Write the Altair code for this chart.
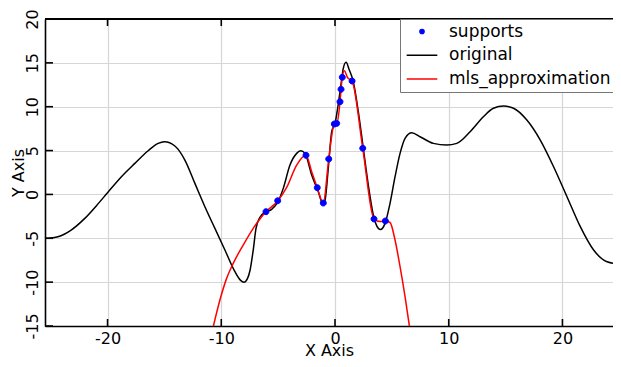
import altair as alt
import pandas as pd

# ---------------- data ----------------
series_names = ["supports", "original", "mls_approximation"]
series_colors = ["#0000ff", "#000000", "#ff0000"]
line_names = ["original", "mls_approximation"]
line_colors = ["#000000", "#ff0000"]

orig_x = [-25.5, -25.0, -24.36, -23.2, -22.0, -20.8, -20.0, -18.78, -17.6, -16.43,
          -15.55, -15.0, -14.08, -13.2, -12.32, -11.44, -10.56, -9.68, -8.8, -8.3,
          -8.0, -7.7, -7.48, -7.19, -6.95, -6.6, -6.1, -5.57, -5.0, -4.55,
          -3.96, -3.37, -3.02, -2.64, -2.05, -1.47, -1.08, -0.9, -0.59, -0.29,
          0.0, 0.44, 0.73, 0.97, 1.26, 1.61, 2.05, 2.49, 2.93, 3.37,
          3.81, 4.0, 4.4, 4.84, 5.28, 5.72, 6.16, 6.75, 7.48, 8.65,
          9.83, 10.71, 11.88, 13.05, 13.93, 14.82, 15.7, 16.87, 18.05, 19.22,
          20.4, 21.57, 22.74, 23.92, 25.09, 25.5]
orig_y = [-5.0, -4.97, -4.82, -4.06, -2.73, -1.02, 0.2, 2.02, 3.54, 4.98,
          5.82, 6.0, 5.52, 3.92, 1.26, -1.4, -3.87, -6.34, -8.81, -9.8,
          -10.0, -9.6, -8.7, -6.34, -3.9, -2.6, -2.0, -1.7, -0.8, 0.69,
          3.35, 4.68, 4.98, 4.68, 2.21, 0.31, -1.02, -0.8, 2.97, 7.15,
          8.1, 11.7, 14.38, 15.06, 14.18, 12.85, 9.43, 5.26, 1.07, -2.35,
          -3.87, -4.0, -3.3, -1.01, 2.02, 4.68, 6.4, 7.04, 6.58, 5.82,
          5.63, 5.82, 7.15, 8.86, 9.82, 10.08, 9.82, 8.48, 6.2, 3.16,
          -0.26, -3.68, -6.34, -7.67, -7.94, -7.95]

mls_x = [-10.71, -10.12, -9.53, -8.95, -8.07, -7.19, -6.45, -6.07, -5.04, -4.25,
         -3.37, -2.55, -2.05, -1.56, -1.03, -0.55, -0.06, 0.15, 0.44, 0.53,
         0.64, 0.82, 1.11, 1.5, 2.44, 3.43, 3.96, 4.43, 4.84, 5.28,
         5.72, 6.16, 6.54]
mls_y = [-15.1, -12.04, -9.57, -7.86, -5.77, -3.87, -2.54, -1.97, -0.75, 0.8,
         3.35, 4.46, 2.59, 0.77, -0.98, 4.04, 8.03, 8.1, 10.57, 11.98,
         13.35, 14.1, 13.3, 12.93, 5.26, -2.8, -3.1, -3.03, -3.2, -5.2,
         -8.24, -11.66, -15.0]

sup_x = [-6.07, -5.04, -2.55, -1.56, -1.03, -0.55, -0.06, 0.15, 0.44, 0.53,
         0.64, 1.5, 2.44, 3.43, 4.43]
sup_y = [-1.97, -0.72, 4.46, 0.77, -0.98, 4.04, 8.03, 8.1, 10.57, 11.98,
         13.35, 12.93, 5.26, -2.8, -3.03]

x_ticks = [-20, -10, 0, 10, 20]
y_ticks = [-15, -10, -5, 0, 5, 10, 15, 20]

# ---------------- tables ----------------
df_orig = pd.DataFrame({"x": orig_x, "y": orig_y, "series": "original"})
df_mls = pd.DataFrame({"x": mls_x, "y": mls_y, "series": "mls_approximation"})
df_sup = pd.DataFrame({"x": sup_x, "y": sup_y, "series": "supports"})
df_xt = pd.DataFrame({"v": x_ticks})
df_yt = pd.DataFrame({"v": y_ticks})

# ---------------- layout / style ----------------
FONT = "DejaVu Sans"
W, H = 568, 307
X_DOMAIN = [-25.5, 24.445]
Y_DOMAIN = [-15, 20]
GRID = "#d6d6d6"

xs = alt.Scale(domain=X_DOMAIN, nice=False, zero=False)
ys = alt.Scale(domain=Y_DOMAIN, nice=False, zero=False)
line_color_scale = alt.Scale(domain=line_names, range=line_colors)
legend_color_scale = alt.Scale(domain=series_names, range=series_colors)
circle_path = "M0.17,0A0.17,0.17,0,1,1,-0.17,0A0.17,0.17,0,1,1,0.17,0Z"
line_path = "M-1.25,0L1.25,0"
shape_scale = alt.Scale(domain=series_names, range=[circle_path, line_path, line_path])

x_axis = alt.Axis(values=x_ticks, grid=True, gridColor=GRID, gridWidth=1.2,
                  ticks=False, domain=True, domainColor="black", domainWidth=1.6,
                  labelFont=FONT, labelFontSize=16, labelColor="black",
                  labelExpr="datum.value + ''",
                  labelPadding=4.5, labelFlush=False, labelOverlap=False,
                  title="X Axis", titleFont=FONT, titleFontSize=16,
                  titleFontWeight="normal", titleColor="black",
                  titleBaseline="alphabetic", titleY=29)
y_axis = alt.Axis(values=y_ticks, grid=True, gridColor=GRID, gridWidth=1.2,
                  ticks=False, domain=True, domainColor="black", domainWidth=1.6,
                  labelFont=FONT, labelFontSize=16, labelColor="black",
                  labelExpr="datum.value + ''",
                  labelAngle=270, labelAlign="center", labelBaseline="alphabetic",
                  labelPadding=8, labelFlush=False, labelOverlap=False,
                  title="Y Axis", titleFont=FONT, titleFontSize=16,
                  titleFontWeight="normal", titleColor="black",
                  titleAngle=270, titleBaseline="alphabetic", titleX=-22)

legend = alt.Legend(title=None, orient="none", legendX=355, legendY=0,
                    fillColor="white", strokeColor="#777777", padding=4,
                    labelFont=FONT, labelFontSize=17, labelColor="black", labelLimit=0,
                    symbolSize=600, symbolStrokeWidth=1.5, symbolOpacity=1,
                    symbolOffset=5, labelOffset=14, clipHeight=17, rowPadding=5.7)

orig_line = alt.Chart(df_orig).mark_line(clip=True, interpolate="monotone", strokeWidth=1.5).encode(
    x=alt.X("x:Q", scale=xs, axis=x_axis),
    y=alt.Y("y:Q", scale=ys, axis=y_axis),
    color=alt.Color("series:N", scale=line_color_scale, legend=None),
)
mls_line = alt.Chart(df_mls).mark_line(clip=True, interpolate="monotone", strokeWidth=1.5).encode(
    x=alt.X("x:Q", scale=xs),
    y=alt.Y("y:Q", scale=ys),
    color=alt.Color("series:N", scale=line_color_scale, legend=None),
)
points = alt.Chart(df_sup).mark_point(filled=True, size=1225, opacity=1, strokeWidth=1).encode(
    x=alt.X("x:Q", scale=xs),
    y=alt.Y("y:Q", scale=ys),
    fill=alt.Fill("series:N", scale=legend_color_scale, legend=legend),
    stroke=alt.Stroke("series:N", scale=legend_color_scale, legend=legend),
    shape=alt.Shape("series:N", scale=shape_scale, legend=legend),
)

tick_style = dict(color="black", strokeWidth=1.6)
top_ticks = alt.Chart(df_xt).mark_rule(**tick_style).encode(
    x=alt.X("v:Q", scale=xs), y=alt.value(0), y2=alt.value(7))
bottom_ticks = alt.Chart(df_xt).mark_rule(**tick_style).encode(
    x=alt.X("v:Q", scale=xs), y=alt.value(H - 7), y2=alt.value(H))
left_ticks = alt.Chart(df_yt).mark_rule(**tick_style).encode(
    y=alt.Y("v:Q", scale=ys), x=alt.value(0), x2=alt.value(8))
top_border = alt.Chart(df_xt).mark_rule(**tick_style).encode(
    x=alt.value(0), x2=alt.value(W), y=alt.value(0))

chart = alt.layer(
    orig_line, mls_line, top_border, top_ticks, bottom_ticks, left_ticks, points
).properties(
    width=W, height=H,
    autosize=alt.AutoSizeParams(type="none"),
    padding={"left": 37, "top": 11, "right": 0, "bottom": 33},
    background="white",
).configure_view(stroke=None)

chart.save("out.html", embed_options={"renderer": "svg", "actions": False})
